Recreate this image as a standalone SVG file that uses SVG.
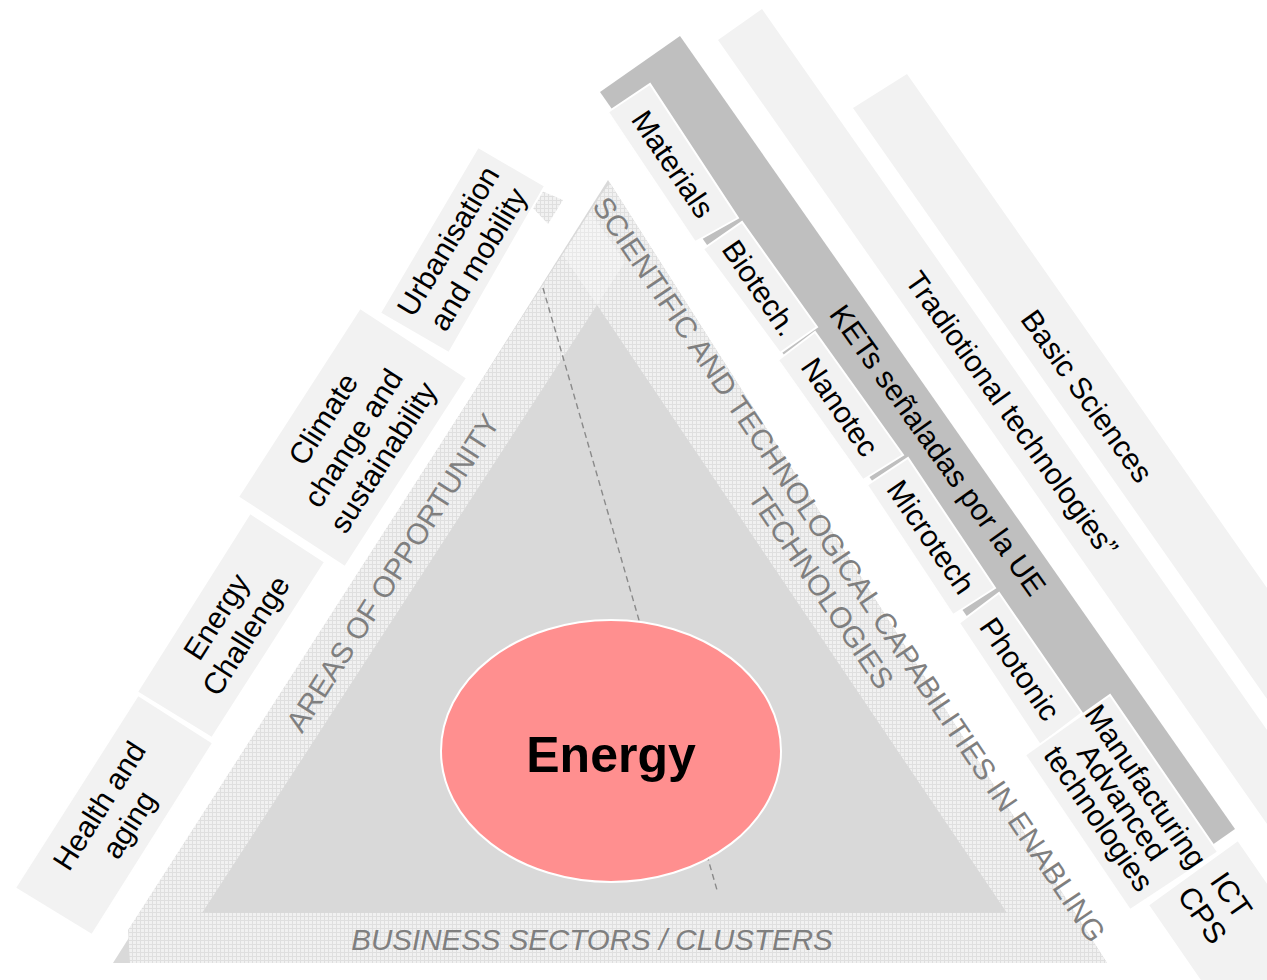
<svg xmlns="http://www.w3.org/2000/svg" width="1267" height="980" viewBox="0 0 1267 980">
<defs>
<pattern id="tex" width="4" height="4" patternUnits="userSpaceOnUse">
<rect width="4" height="4" fill="#f1f1f1"/>
<path d="M0 0.5H4M0.5 0V4" stroke="#dfdfdf" stroke-width="1"/>
</pattern>
</defs>
<style>
.box{fill:#f2f2f2;stroke:#ffffff;stroke-width:2}
.band{fill:#f2f2f2}
.lbl{font-family:"Liberation Sans",Arial,sans-serif;font-size:30px;fill:#000000;text-anchor:middle}
.glbl{font-family:"Liberation Sans",Arial,sans-serif;font-size:29.5px;fill:#7f7f7f;text-anchor:middle}
.conn{fill:none;stroke:#8a8a8a;stroke-width:1.4;stroke-dasharray:6 4}
</style>
<rect width="1267" height="980" fill="#ffffff"/>

<!-- background bands on the right -->
<g id="basic-sciences">
<polygon class="band" points="853,108 907,74 1267,588 1267,699"/>
<text class="lbl" transform="translate(1087,396) rotate(54.5)" y="10.5">Basic Sciences</text>
</g>
<g id="traditional">
<polygon class="band" points="718,40 762,9 1267,730 1267,824"/>
<text class="lbl" transform="translate(1012,414) rotate(54.5)" y="10.5">Tradiotional technologies”</text>
</g>
<g id="kets">
<polygon points="600,92 680,36 1235,829 1155,885" fill="#bfbfbf"/>
<text class="lbl" transform="translate(938,450) rotate(54.5)" y="10.5">KETs señaladas por la UE</text>
</g>

<!-- triangle -->
<g id="triangle">
<polygon points="608,180 113,963 1107,963" fill="#d9d9d9"/>
<polygon points="610,183 1107,963 130,963 128,930 600,196" fill="url(#tex)"/>
<polygon points="537,189 563,200 548,224 531,206" fill="url(#tex)"/>
<polygon points="563,255 590,212 625,262 597,305" fill="#ffffff" opacity="0.3"/>
<polygon points="597,305 202,913 1007,913" fill="#d9d9d9"/>
</g>

<g id="connectors">
<line class="conn" x1="543" y1="288" x2="717" y2="890"/>
</g>

<g id="areas-label">
<text class="glbl" transform="translate(393,573) rotate(-57.5)" y="10">AREAS OF OPPORTUNITY</text>
</g>
<g id="scientific-label">
<text class="glbl" transform="translate(835,579) rotate(56)"><tspan x="0" y="-7">SCIENTIFIC AND TECHNOLOGICAL CAPABILITIES IN ENABLING</tspan><tspan x="0" y="27">TECHNOLOGIES</tspan></text>
</g>
<g id="business-label">
<text class="glbl" x="592" y="950" font-style="italic">BUSINESS SECTORS / CLUSTERS</text>
</g>

<g id="energy">
<ellipse cx="611" cy="751" rx="170" ry="131" fill="#ff8f8f" stroke="#ffffff" stroke-width="2"/>
<text x="611" y="772" font-family="'Liberation Sans',Arial,sans-serif" font-size="50" font-weight="bold" text-anchor="middle" fill="#000000">Energy</text>
</g>

<!-- left boxes -->
<g id="health">
<polygon class="box" points="15,888 138,695 213,743 92,935"/>
<text class="lbl" transform="translate(114,815) rotate(-57.5)"><tspan x="0" y="-7">Health and</tspan><tspan x="0" y="28">aging</tspan></text>
</g>
<g id="energy-challenge">
<polygon class="box" points="137,692 250,513 325,562 212,738"/>
<text class="lbl" transform="translate(231,626) rotate(-57.5)"><tspan x="0" y="-7">Energy</tspan><tspan x="0" y="28">Challenge</tspan></text>
</g>
<g id="climate">
<polygon class="box" points="238,497 360,308 467,378 345,567"/>
<text class="lbl" transform="translate(353,438) rotate(-57.5)"><tspan x="0" y="-25">Climate</tspan><tspan x="0" y="10.5">change and</tspan><tspan x="0" y="46">sustainability</tspan></text>
</g>
<g id="urbanisation">
<polygon class="box" points="380,313 478,147 545,186 449,353"/>
<text class="lbl" transform="translate(463,250) rotate(-59)"><tspan x="0" y="-7">Urbanisation</tspan><tspan x="0" y="28">and mobility</tspan></text>
</g>

<!-- right boxes -->
<g id="materials">
<polygon class="box" points="608,112 650,84 738,218 695,242"/>
<text class="lbl" transform="translate(673,164) rotate(56)" y="10.5">Materials</text>
</g>
<g id="biotech">
<polygon class="box" points="703,249 742,222 817,327 780,353"/>
<text class="lbl" transform="translate(760,288) rotate(55.5)" y="10.5">Biotech.</text>
</g>
<g id="nanotec">
<polygon class="box" points="778,360 815,332 903,455 863,480"/>
<text class="lbl" transform="translate(840,407) rotate(55.5)" y="10.5">Nanotec</text>
</g>
<g id="microtech">
<polygon class="box" points="867,485 908,458 995,588 953,615"/>
<text class="lbl" transform="translate(931,537) rotate(55.5)" y="10.5">Microtech</text>
</g>
<g id="photonic">
<polygon class="box" points="959,623 999,593 1082,713 1040,745"/>
<text class="lbl" transform="translate(1020,669) rotate(55.5)" y="10.5">Photonic</text>
</g>
<g id="manufacturing">
<polygon class="box" points="1025,755 1110,695 1218,852 1130,910"/>
<text class="lbl" font-size="21.5" transform="translate(1120,804) rotate(55.5)"><tspan x="0" y="-21">Manufacturing</tspan><tspan x="0" y="7.5">Advanced</tspan><tspan x="0" y="36">technologies</tspan></text>
</g>
<g id="ict">
<polygon class="box" points="1148,905 1238,840 1360,1017 1270,1082"/>
<text class="lbl" transform="translate(1217,905) rotate(55.5)"><tspan x="0" y="-7">ICT</tspan><tspan x="0" y="28">CPS</tspan></text>
</g>
</svg>
